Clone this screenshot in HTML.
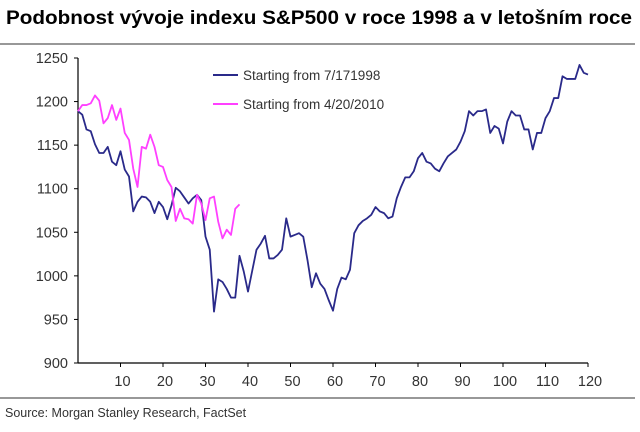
<!DOCTYPE html>
<html><head><meta charset="utf-8"><style>
body{margin:0;width:640px;height:427px;background:#fff;overflow:hidden;font-family:"Liberation Sans",sans-serif}
</style></head><body>
<svg width="640" height="427" id="c" xmlns="http://www.w3.org/2000/svg">
<text x="6" y="24" font-size="19" font-weight="bold" fill="#000" textLength="626" lengthAdjust="spacingAndGlyphs">Podobnost vývoje indexu S&amp;P500 v roce 1998 a v letošním roce</text>
<line x1="0" y1="44" x2="635" y2="44" stroke="#777" stroke-width="1.5"/>
<line x1="0" y1="398" x2="635" y2="398" stroke="#777" stroke-width="1.5"/>
<text x="5" y="417" font-size="12.5" fill="#333">Source: Morgan Stanley Research, FactSet</text>
<g id="axes"></g>
<g id="series"></g>
<g>
<line x1="213" y1="75" x2="238" y2="75" stroke="#2a2a8a" stroke-width="2"/>
<text x="243" y="80" font-size="13.5" fill="#333">Starting from 7/171998</text>
<line x1="213" y1="104" x2="238" y2="104" stroke="#ff40ff" stroke-width="2"/>
<text x="243" y="109" font-size="13.5" fill="#333">Starting from 4/20/2010</text>
</g>
</svg>
<script>
const yTicks=[900,950,1000,1050,1100,1150,1200,1250];
const xTicks=[10,20,30,40,50,60,70,80,90,100,110,120];
const blue1998=[1189,1185,1168,1166,1151,1141,1141,1148,1131,1127,1143,1122,1114,1074,1085,1091,1090,1085,1072,1085,1079,1065,1081,1101,1097,1090,1083,1089,1093,1087,1045,1030,959,996,993,985,975,975,1023,1005,982,1006,1030,1037,1046,1020,1020,1024,1030,1066,1045,1047,1049,1045,1018,987,1003,991,985,972,960,985,998,996,1007,1049,1058,1063,1066,1070,1079,1074,1072,1066,1068,1089,1102,1113,1113,1120,1135,1141,1131,1129,1123,1120,1129,1137,1141,1145,1154,1166,1189,1184,1189,1189,1191,1164,1172,1169,1152,1177,1189,1184,1184,1168,1168,1145,1164,1164,1181,1189,1204,1204,1229,1226,1226,1226,1242,1233,1231];
const magenta2010=[1189,1196,1196,1198,1207,1201,1175,1181,1196,1179,1192,1164,1156,1123,1102,1148,1146,1162,1148,1127,1125,1110,1102,1063,1077,1066,1065,1060,1093,1083,1064,1089,1091,1062,1043,1053,1047,1077,1082];
const NS='http://www.w3.org/2000/svg';
const X=v=>78+v*4.25;
const Y=v=>363-(v-900)*305/350;
function mk(t,a,p){const e=document.createElementNS(NS,t);for(const k in a)e.setAttribute(k,a[k]);p.appendChild(e);return e;}
const ax=document.getElementById('axes');
let e=mk('line',{x1:78,y1:Y(1250),x2:78,y2:Y(900),stroke:'#000','stroke-width':1.2},ax);


e=mk('line',{x1:78,y1:Y(900),x2:X(120),y2:Y(900),stroke:'#000','stroke-width':1.2},ax);


yTicks.forEach(v=>{
 mk('line',{x1:74,y1:Y(v),x2:78,y2:Y(v),stroke:'#000'},ax);
 const t=mk('text',{x:68,y:Y(v)+5,'font-size':14.5,'text-anchor':'end',fill:'#333'},ax);
 t.textContent=v;
 
 
});
xTicks.forEach(v=>{
 mk('line',{x1:X(v),y1:Y(900),x2:X(v),y2:Y(900)+4,stroke:'#000'},ax);
 const t=mk('text',{x:X(v)+2,y:386,'font-size':14.5,'text-anchor':'middle',fill:'#333'},ax);
 t.textContent=v;
 
 
});
const sg=document.getElementById('series');
function line(arr,col){return mk('polyline',{points:arr.map((v,i)=>X(i)+','+Y(v)).join(' '),fill:'none',stroke:col,'stroke-width':1.8,'stroke-linejoin':'round'},sg);}
e=line(blue1998,'#2a2a8a');


e=line(magenta2010,'#ff40ff');


</script>
</body></html>
